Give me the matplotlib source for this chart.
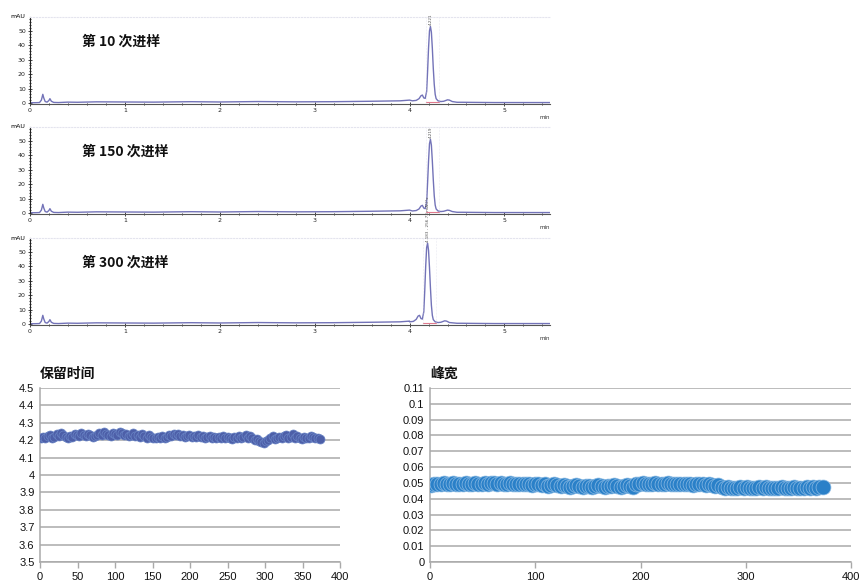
import numpy as np
import matplotlib.pyplot as plt
from matplotlib.ticker import MultipleLocator

plt.rcParams['font.family'] = ['Noto Sans CJK SC', 'DejaVu Sans']

W, H = 859, 583

# chromatogram traces (min, mAU)
early_t = [0, 0.05, 0.1, 0.12, 0.135, 0.145, 0.16, 0.18, 0.2, 0.21, 0.225, 0.25, 0.3, 0.4,
           0.5, 0.7, 1.0, 1.3, 1.7, 2.0, 2.4, 2.8, 3.2, 3.6, 3.9, 4.0]
early_a = [0.2, 0.2, 0.3, 2.0, 6.0, 3.5, 1.0, 0.6, 1.8, 3.0, 1.2, 0.4, 0.3, 0.6,
           0.5, 0.8, 0.7, 0.6, 0.9, 0.7, 1.0, 0.8, 0.9, 1.2, 1.5, 2.0]
late_t = [4.55, 4.7, 4.9, 5.1, 5.3, 5.48]
late_a = [0.5, 0.4, 0.3, 0.3, 0.3, 0.3]

peak_t_10 = [4.03, 4.07, 4.10, 4.12, 4.135, 4.15, 4.165, 4.18, 4.19, 4.20, 4.21, 4.22,
             4.23, 4.24, 4.25, 4.26, 4.27, 4.28, 4.30, 4.33, 4.36, 4.40, 4.42, 4.45, 4.5]
peak_a_10 = [1.5, 1.8, 3.0, 5.0, 5.5, 3.5, 3.2, 8.0, 22, 38, 50, 53,
             49, 38, 24, 13, 6, 3, 1.5, 1.0, 1.2, 2.2, 2.0, 1.0, 0.5]
peak_t_150 = [4.03, 4.07, 4.10, 4.12, 4.135, 4.15, 4.165, 4.18, 4.19, 4.20, 4.21, 4.22,
              4.23, 4.24, 4.25, 4.26, 4.27, 4.28, 4.30, 4.33, 4.36, 4.40, 4.42, 4.45, 4.5]
peak_a_150 = [1.4, 1.7, 2.8, 4.8, 5.3, 3.4, 3.0, 7.5, 21, 36, 48, 51,
              47, 36, 23, 12, 5.5, 2.8, 1.4, 1.0, 1.2, 2.0, 1.8, 1.0, 0.5]
peak_t_300 = [4.00, 4.04, 4.07, 4.09, 4.105, 4.12, 4.135, 4.15, 4.16, 4.17, 4.18, 4.19,
              4.20, 4.21, 4.22, 4.23, 4.24, 4.25, 4.27, 4.30, 4.33, 4.37, 4.39, 4.42, 4.5]
peak_a_300 = [1.5, 1.8, 3.2, 5.5, 6.0, 3.8, 3.4, 8.5, 23, 40, 53, 56,
              51, 39, 25, 13, 6, 3, 1.5, 1.0, 1.2, 2.2, 2.0, 1.0, 0.5]

panel_labels = ['第 10 次进样', '第 150 次进样', '第 300 次进样']
peak_tags = ['4.221', '4.219', '4.183 - 256.73 mAU*s']
int_start = [4.17, 4.17, 4.14]
int_end = [4.31, 4.31, 4.28]

# retention time, every 3rd injection
inj_rt = list(range(1, 375, 3))
rt = [4.215, 4.22, 4.21, 4.225, 4.23, 4.215, 4.22, 4.235, 4.225, 4.24,
      4.23, 4.22, 4.215, 4.225, 4.22, 4.235, 4.23, 4.225, 4.24, 4.23,
      4.225, 4.235, 4.23, 4.22, 4.225, 4.23, 4.24, 4.23, 4.245, 4.235,
      4.23, 4.225, 4.24, 4.235, 4.23, 4.245, 4.24, 4.23, 4.235, 4.225,
      4.23, 4.24, 4.225, 4.23, 4.22, 4.235, 4.225, 4.215, 4.23, 4.22,
      4.21, 4.215, 4.22, 4.21, 4.225, 4.215, 4.22, 4.23, 4.225, 4.235,
      4.23, 4.235, 4.225, 4.23, 4.22, 4.225, 4.23, 4.22, 4.225, 4.22,
      4.23, 4.22, 4.225, 4.215, 4.22, 4.225, 4.215, 4.22, 4.21, 4.22,
      4.215, 4.225, 4.21, 4.22, 4.215, 4.205, 4.22, 4.215, 4.225, 4.21,
      4.22, 4.23, 4.215, 4.225, 4.21, 4.2, 4.205, 4.195, 4.19, 4.185,
      4.195, 4.2, 4.21, 4.225, 4.205, 4.215, 4.22, 4.21, 4.225, 4.23,
      4.215, 4.22, 4.235, 4.21, 4.225, 4.215, 4.205, 4.22, 4.21, 4.215,
      4.225, 4.22, 4.215, 4.21, 4.205]

# peak width, every 3rd injection
inj_pw = list(range(1, 375, 3))
pw = [0.0485, 0.049, 0.0495, 0.049, 0.05, 0.049, 0.0495, 0.05, 0.0495, 0.049,
      0.0495, 0.05, 0.049, 0.0495, 0.05, 0.0495, 0.049, 0.05, 0.0495, 0.05,
      0.05, 0.0495, 0.05, 0.049, 0.0495, 0.05, 0.0495, 0.049, 0.0495, 0.049,
      0.0495, 0.049, 0.0485, 0.049, 0.0495, 0.0485, 0.049, 0.048, 0.0485, 0.049,
      0.0485, 0.048, 0.0485, 0.048, 0.0475, 0.048, 0.0485, 0.048, 0.0475, 0.048,
      0.048, 0.0475, 0.048, 0.0485, 0.048, 0.0475, 0.048, 0.048, 0.0485, 0.048,
      0.0475, 0.048, 0.0485, 0.048, 0.0475, 0.049, 0.0495, 0.05, 0.0495, 0.049,
      0.0495, 0.05, 0.0495, 0.049, 0.0495, 0.05, 0.049, 0.0495, 0.049, 0.0495,
      0.049, 0.0495, 0.049, 0.0485, 0.049, 0.0495, 0.049, 0.0485, 0.049, 0.0485,
      0.048, 0.0485, 0.0475, 0.047, 0.0475, 0.047, 0.0465, 0.047, 0.0475, 0.047,
      0.0475, 0.047, 0.0465, 0.047, 0.0475, 0.047, 0.0475, 0.047, 0.0465, 0.047,
      0.047, 0.0475, 0.047, 0.0465, 0.047, 0.0475, 0.047, 0.0465, 0.047, 0.0475,
      0.047, 0.0475, 0.047, 0.0475, 0.0475]

rt_ticks = [3.5, 3.6, 3.7, 3.8, 3.9, 4.0, 4.1, 4.2, 4.3, 4.4, 4.5]
rt_tick_labels = ['3.5', '3.6', '3.7', '3.8', '3.9', '4', '4.1', '4.2', '4.3', '4.4', '4.5']
pw_ticks = [0, 0.01, 0.02, 0.03, 0.04, 0.05, 0.06, 0.07, 0.08, 0.09, 0.1, 0.11]
pw_tick_labels = ['0', '0.01', '0.02', '0.03', '0.04', '0.05', '0.06', '0.07', '0.08',
                  '0.09', '0.1', '0.11']


def px(l, t, r, b):
    return [l / W, 1 - b / H, (r - l) / W, (b - t) / H]


fig = plt.figure(figsize=(W / 100, H / 100), dpi=100)

peaks = [(peak_t_10, peak_a_10), (peak_t_150, peak_a_150), (peak_t_300, peak_a_300)]
tops = [17, 127, 238]
for i, (pt, pa) in enumerate(peaks):
    ax = fig.add_axes(px(30, tops[i], 550, tops[i] + 87))
    t = early_t + pt + late_t
    a = early_a + pa + late_a
    ax.plot(t, a, color='#7373b8', lw=1.0)
    ax.plot([int_start[i], int_end[i]], [0.6, 0.6], color='#e07a8e', lw=0.8)
    pk = pt[int(np.argmax(pa))]
    for xv in (int_start[i], int_end[i]):
        ax.axvline(xv, color='#d8d8e6', lw=0.4, ls=':')
    ax.text(pk, max(pa) + 1, peak_tags[i], rotation=90, fontsize=3, color='#555555',
            ha='center', va='bottom', family=['DejaVu Sans'])
    ax.set_xlim(0, 5.48)
    ax.set_ylim(-0.7, 59.6)
    ax.set_xticks([0, 1, 2, 3, 4, 5])
    ax.xaxis.set_minor_locator(MultipleLocator(0.2))
    ax.set_yticks([0, 10, 20, 30, 40, 50])
    ax.yaxis.set_minor_locator(MultipleLocator(2))
    ax.tick_params(which='both', direction='inout', labelsize=4.5, pad=1.5,
                   colors='#222222', width=0.6)
    ax.tick_params(which='major', length=3)
    ax.tick_params(which='minor', length=1.5)
    for lab in ax.get_xticklabels() + ax.get_yticklabels():
        lab.set_family(['DejaVu Sans'])
    ax.spines['right'].set_visible(False)
    ax.spines['top'].set_color('#e4e4ee')
    ax.spines['top'].set_linestyle(':')
    ax.spines['left'].set_color('#222222')
    ax.spines['bottom'].set_color('#555555')
    ax.spines['left'].set_linewidth(0.8)
    ax.spines['bottom'].set_linewidth(0.8)
    ax.text(-0.01, 1.0, 'mAU', transform=ax.transAxes, fontsize=4.5, ha='right',
            va='center', family=['DejaVu Sans'])
    ax.text(0.99, -0.15, 'min', transform=ax.transAxes, fontsize=4, ha='center',
            va='center', family=['DejaVu Sans'], color='#333333')
    ax.text(0.1, 0.72, panel_labels[i], transform=ax.transAxes, fontsize=10,
            fontweight='bold', va='center', ha='left', color='#111111')

tick_font = ['Liberation Sans Narrow', 'Liberation Sans', 'DejaVu Sans']


def style_scatter(ax, ticks, labels, ylim, xticks, title):
    ax.set_ylim(*ylim)
    ax.set_xlim(0, 400)
    ax.set_yticks(ticks)
    ax.set_yticklabels(labels)
    ax.set_xticks(xticks)
    ax.yaxis.grid(True, color='#a9a9a9', lw=1.1)
    ax.set_axisbelow(True)
    for s in ('top', 'right'):
        ax.spines[s].set_visible(False)
    for s in ('left', 'bottom'):
        ax.spines[s].set_color('#a9a9a9')
        ax.spines[s].set_linewidth(1.1)
    ax.tick_params(axis='y', length=0, labelsize=8, pad=4, labelcolor='#111111')
    ax.tick_params(axis='x', length=4, width=1, color='#a9a9a9', labelsize=8, pad=3,
                   labelcolor='#111111')
    for lab in ax.get_xticklabels() + ax.get_yticklabels():
        lab.set_family(tick_font)
    ax.text(0.0, 1.04, title, transform=ax.transAxes, fontsize=10, fontweight='bold',
            ha='left', va='bottom', color='#111111')


ax_rt = fig.add_axes(px(40, 388, 340, 562))
ax_rt.scatter(inj_rt, rt, s=42, facecolor='#4d5fa8', edgecolor='#6a85c6', lw=0.5,
              zorder=3)
style_scatter(ax_rt, rt_ticks, rt_tick_labels, (3.5, 4.5), range(0, 401, 50), '保留时间')

ax_pw = fig.add_axes(px(430, 388, 851, 562))
ax_pw.scatter(inj_pw, pw, s=115, facecolor='#2a80c8', edgecolor='#8cbbe4', lw=0.5,
              zorder=3)
style_scatter(ax_pw, pw_ticks, pw_tick_labels, (0, 0.11), range(0, 401, 100), '峰宽')

fig.savefig('out.png', dpi=100)
